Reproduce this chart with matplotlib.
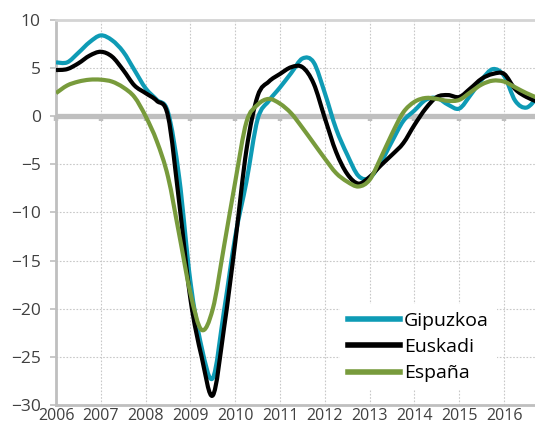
import numpy as np
import matplotlib
matplotlib.use("Agg")
import matplotlib.pyplot as plt
from matplotlib.path import Path
from matplotlib.patches import PathPatch
from matplotlib.lines import Line2D
from matplotlib.markers import TICKDOWN

plt.rcParams["font.family"] = ["Open Sans", "DejaVu Sans"]

# Quarterly time axis, 2006Q1 .. 2016Q4
quarters = 2006 + np.arange(44) * 0.25

gipuzkoa = [5.6, 5.6, 6.6, 7.7, 8.4, 7.9, 6.7, 4.8, 2.9, 1.7, 0.4, -6.4,
            -17.2, -24.0, -27.2, -20.2, -12.5, -6.8, -0.3, 1.6, 3.0, 4.5,
            6.0, 5.6, 2.4, -1.3, -4.0, -6.2, -6.4, -4.8, -2.6, -0.5, 0.6,
            1.7, 1.9, 1.2, 0.8, 2.2, 3.8, 4.9, 4.2, 1.6, 0.9, 2.0]
euskadi = [4.8, 4.9, 5.5, 6.3, 6.7, 6.2, 4.8, 3.2, 2.4, 1.6, 0.0, -9.0,
           -19.0, -25.0, -29.0, -22.0, -13.1, -3.5, 2.1, 3.6, 4.4, 5.1,
           5.1, 3.4, -0.2, -3.7, -6.0, -7.0, -6.3, -5.1, -4.0, -2.8, -0.9,
           0.8, 2.0, 2.2, 2.0, 2.9, 3.9, 4.4, 4.4, 2.8, 2.0, 1.5]
espana = [2.4, 3.2, 3.6, 3.8, 3.8, 3.6, 3.0, 2.0, 0.0, -2.6, -6.3, -12.3,
          -18.4, -22.2, -20.0, -13.5, -6.8, -0.6, 1.2, 1.8, 1.3, 0.3,
          -1.2, -2.8, -4.4, -5.9, -6.8, -7.3, -6.6, -4.3, -1.8, 0.4, 1.5,
          1.9, 1.8, 1.6, 1.7, 2.5, 3.3, 3.7, 3.6, 3.0, 2.4, 1.9]

year_ticks = list(range(2006, 2017))
y_ticks = [10, 5, 0, -5, -10, -15, -20, -25, -30]

series = [("Gipuzkoa", gipuzkoa, "#0E9BB5"),
          ("Euskadi", euskadi, "#000000"),
          ("España", espana, "#789B3C")]


def smooth_path(x, y):
    # Excel-style smoothed line: cubic Bezier through every data point.
    pts = np.column_stack([x, y])
    verts = [pts[0]]
    codes = [Path.MOVETO]
    n = len(pts)
    for i in range(n - 1):
        p_prev = pts[max(i - 1, 0)]
        p0 = pts[i]
        p1 = pts[i + 1]
        p_next = pts[min(i + 2, n - 1)]
        c1 = p0 + (p1 - p_prev) / 6.0
        c2 = p1 - (p_next - p0) / 6.0
        verts += [c1, c2, p1]
        codes += [Path.CURVE4] * 3
    return Path(verts, codes)


fig = plt.figure(figsize=(5.35, 4.23), dpi=100)
ax = fig.add_axes([0.1047, 0.0426, 0.8953, 0.9101])

# Grid and zero line with its small tick marks.
ax.grid(True, color="#C8C8C8", linestyle=(0, (1.5, 1.5)), linewidth=0.8)
ax.set_axisbelow(True)
ax.axhline(0, color="#BFBFBF", linewidth=3.8, zorder=1.5)
ax.plot(year_ticks, np.zeros(len(year_ticks)), linestyle="none",
        marker=TICKDOWN, markersize=3.5, markeredgewidth=3.2,
        color="#BFBFBF", zorder=1.6, clip_on=False)

handles = []
for name, values, color in series:
    patch = PathPatch(smooth_path(quarters, values), facecolor="none",
                      edgecolor=color, linewidth=3.0, joinstyle="round",
                      capstyle="butt", zorder=3, transform=ax.transData)
    ax.add_patch(patch)
    handles.append(Line2D([], [], color=color, linewidth=4, label=name))

ax.set_xlim(2006, 2016.69)
ax.set_ylim(-30, 10)
ax.set_xticks(year_ticks)
ax.set_yticks(y_ticks)

# Spines.
for side in ["left", "bottom"]:
    ax.spines[side].set_color("#BFBFBF")
    ax.spines[side].set_linewidth(2.0)
ax.spines["top"].set_color("#D4D4D4")
ax.spines["top"].set_linewidth(2.0)
ax.spines["right"].set_visible(False)

ax.tick_params(axis="y", colors="#BFBFBF", length=4, width=1.2, pad=7,
               labelsize=12.5, labelcolor="#404040")
ax.tick_params(axis="x", length=0, pad=2, labelsize=11.5,
               labelcolor="#404040")

leg = ax.legend(handles=handles, loc="center left",
                bbox_to_anchor=(0.593, 0.15), fontsize=14, frameon=True,
                handlelength=2.7, handletextpad=0.2, labelspacing=0.42,
                borderpad=0.4, borderaxespad=0, fancybox=False)
leg.get_frame().set_facecolor("white")
leg.get_frame().set_edgecolor("none")
leg.get_frame().set_alpha(1)

fig.savefig("out.png", dpi=100)
